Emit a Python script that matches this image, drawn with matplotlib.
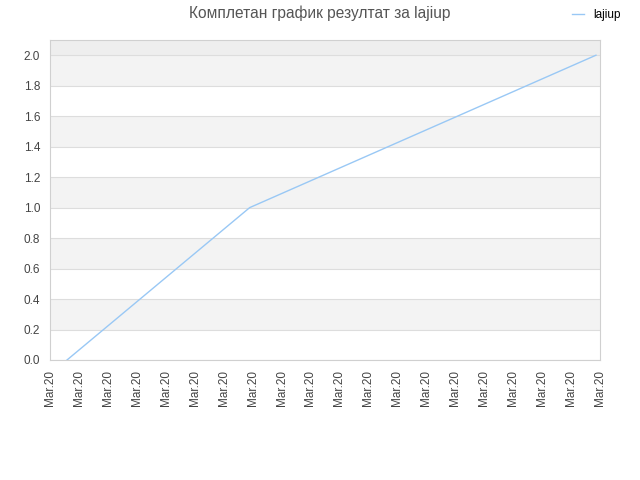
import matplotlib
matplotlib.use('Agg')
import matplotlib.pyplot as plt

# data
tick_labels = ['Mar.20'] * 20
x_pos = [0.59, 6.9, 18.86]
scores = [0.0, 1.0, 2.0]
y_ticks = [0.0, 0.2, 0.4, 0.6, 0.8, 1.0, 1.2, 1.4, 1.6, 1.8, 2.0]

plt.rcParams['font.family'] = ['Liberation Sans', 'DejaVu Sans']

fig = plt.figure(figsize=(6.4, 4.8), dpi=100)
ax = fig.add_axes([0.078, 0.25, 0.8595, 0.6667])

ax.set_xlim(0, 19)
ax.set_ylim(0, 2.1)

# alternating bands
for i in range(len(y_ticks) - 1):
    if i % 2 == 1:
        ax.axhspan(y_ticks[i], y_ticks[i + 1], color='#f3f3f3', zorder=0, lw=0)
ax.axhspan(2.0, 2.1, color='#eeeeee', zorder=0, lw=0)

ax.plot(x_pos, scores, color='#99c8f5', linewidth=1, label='lajiup', zorder=3)

ax.set_yticks(y_ticks)
ax.set_yticklabels([f'{v:.1f}' for v in y_ticks])
ax.set_xticks(range(len(tick_labels)))
ax.set_xticklabels(tick_labels, rotation=90)
ax.yaxis.grid(True, color='#dddddd', linewidth=0.8)
ax.set_axisbelow(True)
ax.tick_params(length=0, labelsize=8.5, colors='#444444', pad=7)
for s in ax.spines.values():
    s.set_color('#d0d0d0')

fig.suptitle('Комплетан график резултат за lajiup', x=0.5, y=0.988,
             fontsize=11.2, color='#555555')
fig.legend(loc='center right', bbox_to_anchor=(0.978, 0.968), frameon=False,
           fontsize=8.5, handlelength=1.0, handletextpad=0.8, borderaxespad=0)

plt.savefig('out.png')
plt.close()
